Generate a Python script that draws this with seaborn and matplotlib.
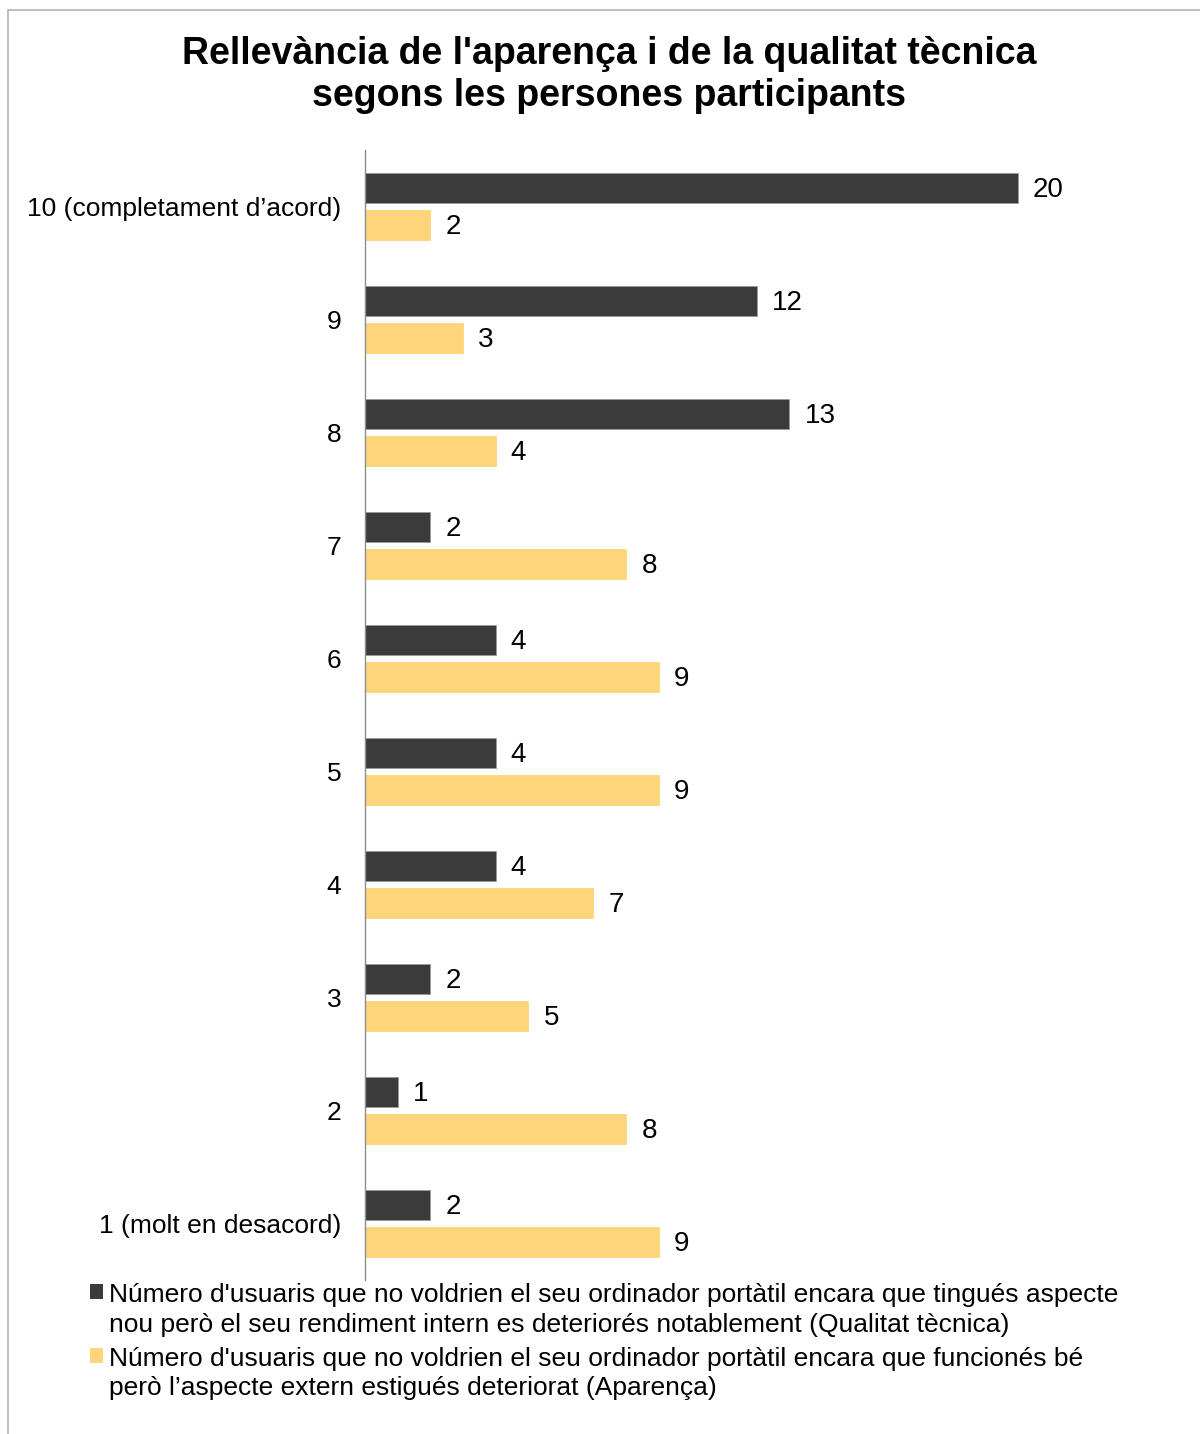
import pandas as pd
import numpy as np
import matplotlib.pyplot as plt
import seaborn as sns
from matplotlib.patches import Rectangle, Patch
from matplotlib.legend_handler import HandlerPatch

# data
categories = ['10 (completament d\u2019acord)', '9', '8', '7', '6', '5', '4', '3', '2', '1 (molt en desacord)']
qualitat = [20, 12, 13, 2, 4, 4, 4, 2, 1, 2]
aparenca = [2, 3, 4, 8, 9, 9, 7, 5, 8, 9]
series_names = [
    "N\u00famero d'usuaris que no voldrien el seu ordinador port\u00e0til encara que tingu\u00e9s aspecte\n"
    "nou per\u00f2 el seu rendiment intern es deterior\u00e9s notablement (Qualitat t\u00e8cnica)",
    "N\u00famero d'usuaris que no voldrien el seu ordinador port\u00e0til encara que funcion\u00e9s b\u00e9\n"
    "per\u00f2 l\u2019aspecte extern estigu\u00e9s deteriorat (Aparen\u00e7a)",
]
title = "Rellev\u00e0ncia de l'aparen\u00e7a i de la qualitat t\u00e8cnica\nsegons les persones participants"

colors = ['#3b3b3b', '#fed57a']

df = pd.DataFrame({
    'cat': categories * 2,
    'value': qualitat + aparenca,
    'serie': [series_names[0]] * len(categories) + [series_names[1]] * len(categories),
})

sns.set_style('white')
plt.rcParams['font.family'] = ['Liberation Sans', 'DejaVu Sans']
plt.rcParams['text.color'] = 'black'

fig = plt.figure(figsize=(12, 14.34), dpi=100)
ax = fig.add_axes([365 / 1200, 1 - 1280 / 1434, 816 / 1200, 1130 / 1434])

sns.barplot(data=df, y='cat', x='value', hue='serie', order=categories,
            hue_order=series_names, palette=colors, orient='h',
            width=0.655, gap=0.19, saturation=1, legend=False, ax=ax)

for i, cont in enumerate(ax.containers):
    for bar in cont:
        bar.set_edgecolor('#9a9a9a' if i == 0 else colors[1])
        bar.set_linewidth(0.6)
    labels = ax.bar_label(cont, padding=11, fontsize=20, color='black')
    for t in labels:
        t.set_y(-1.5)  # nudge a bit lower, as in the original

ax.set_xlim(0, 25)
ax.set_ylim(9.5, -0.5)
ax.set_xlabel('')
ax.set_ylabel('')
ax.set_xticks([])
ax.tick_params(axis='y', length=0, pad=17, labelsize=19, labelcolor='black')
for s in ['top', 'right', 'bottom']:
    ax.spines[s].set_visible(False)
ax.spines['left'].set_color('#8c8c8c')
ax.spines['left'].set_linewidth(1)

fig.text(609 / 1200, 1 - 75 / 1434, title, ha='center', va='center',
         fontsize=27, fontweight='bold', linespacing=1.24, color='black')


# legend square sits on the first line of the label
def top_square(legend, orig_handle, xdescent, ydescent, width, height, fontsize):
    return Rectangle((-xdescent, -ydescent + 0.58 * fontsize * 1.2), width, height)


handles = [Patch(facecolor=c, edgecolor='none') for c in colors]
leg = fig.legend(handles, series_names, loc='upper left',
                 bbox_to_anchor=(90 / 1200, 1 - 1283 / 1434), frameon=False,
                 fontsize=19, handlelength=0.5, handleheight=0.5,
                 handletextpad=0.22, labelspacing=0.38, borderpad=0,
                 borderaxespad=0,
                 handler_map={Patch: HandlerPatch(patch_func=top_square)})
for t in leg.get_texts():
    t.set_linespacing(1.29)

fig.add_artist(Rectangle((8 / 1200, -0.02), 1.2, 1 - 10 / 1434 + 0.02,
                         transform=fig.transFigure, fill=False,
                         edgecolor='#b3b3b3', linewidth=1.2))

fig.savefig('out.png', dpi=100)
